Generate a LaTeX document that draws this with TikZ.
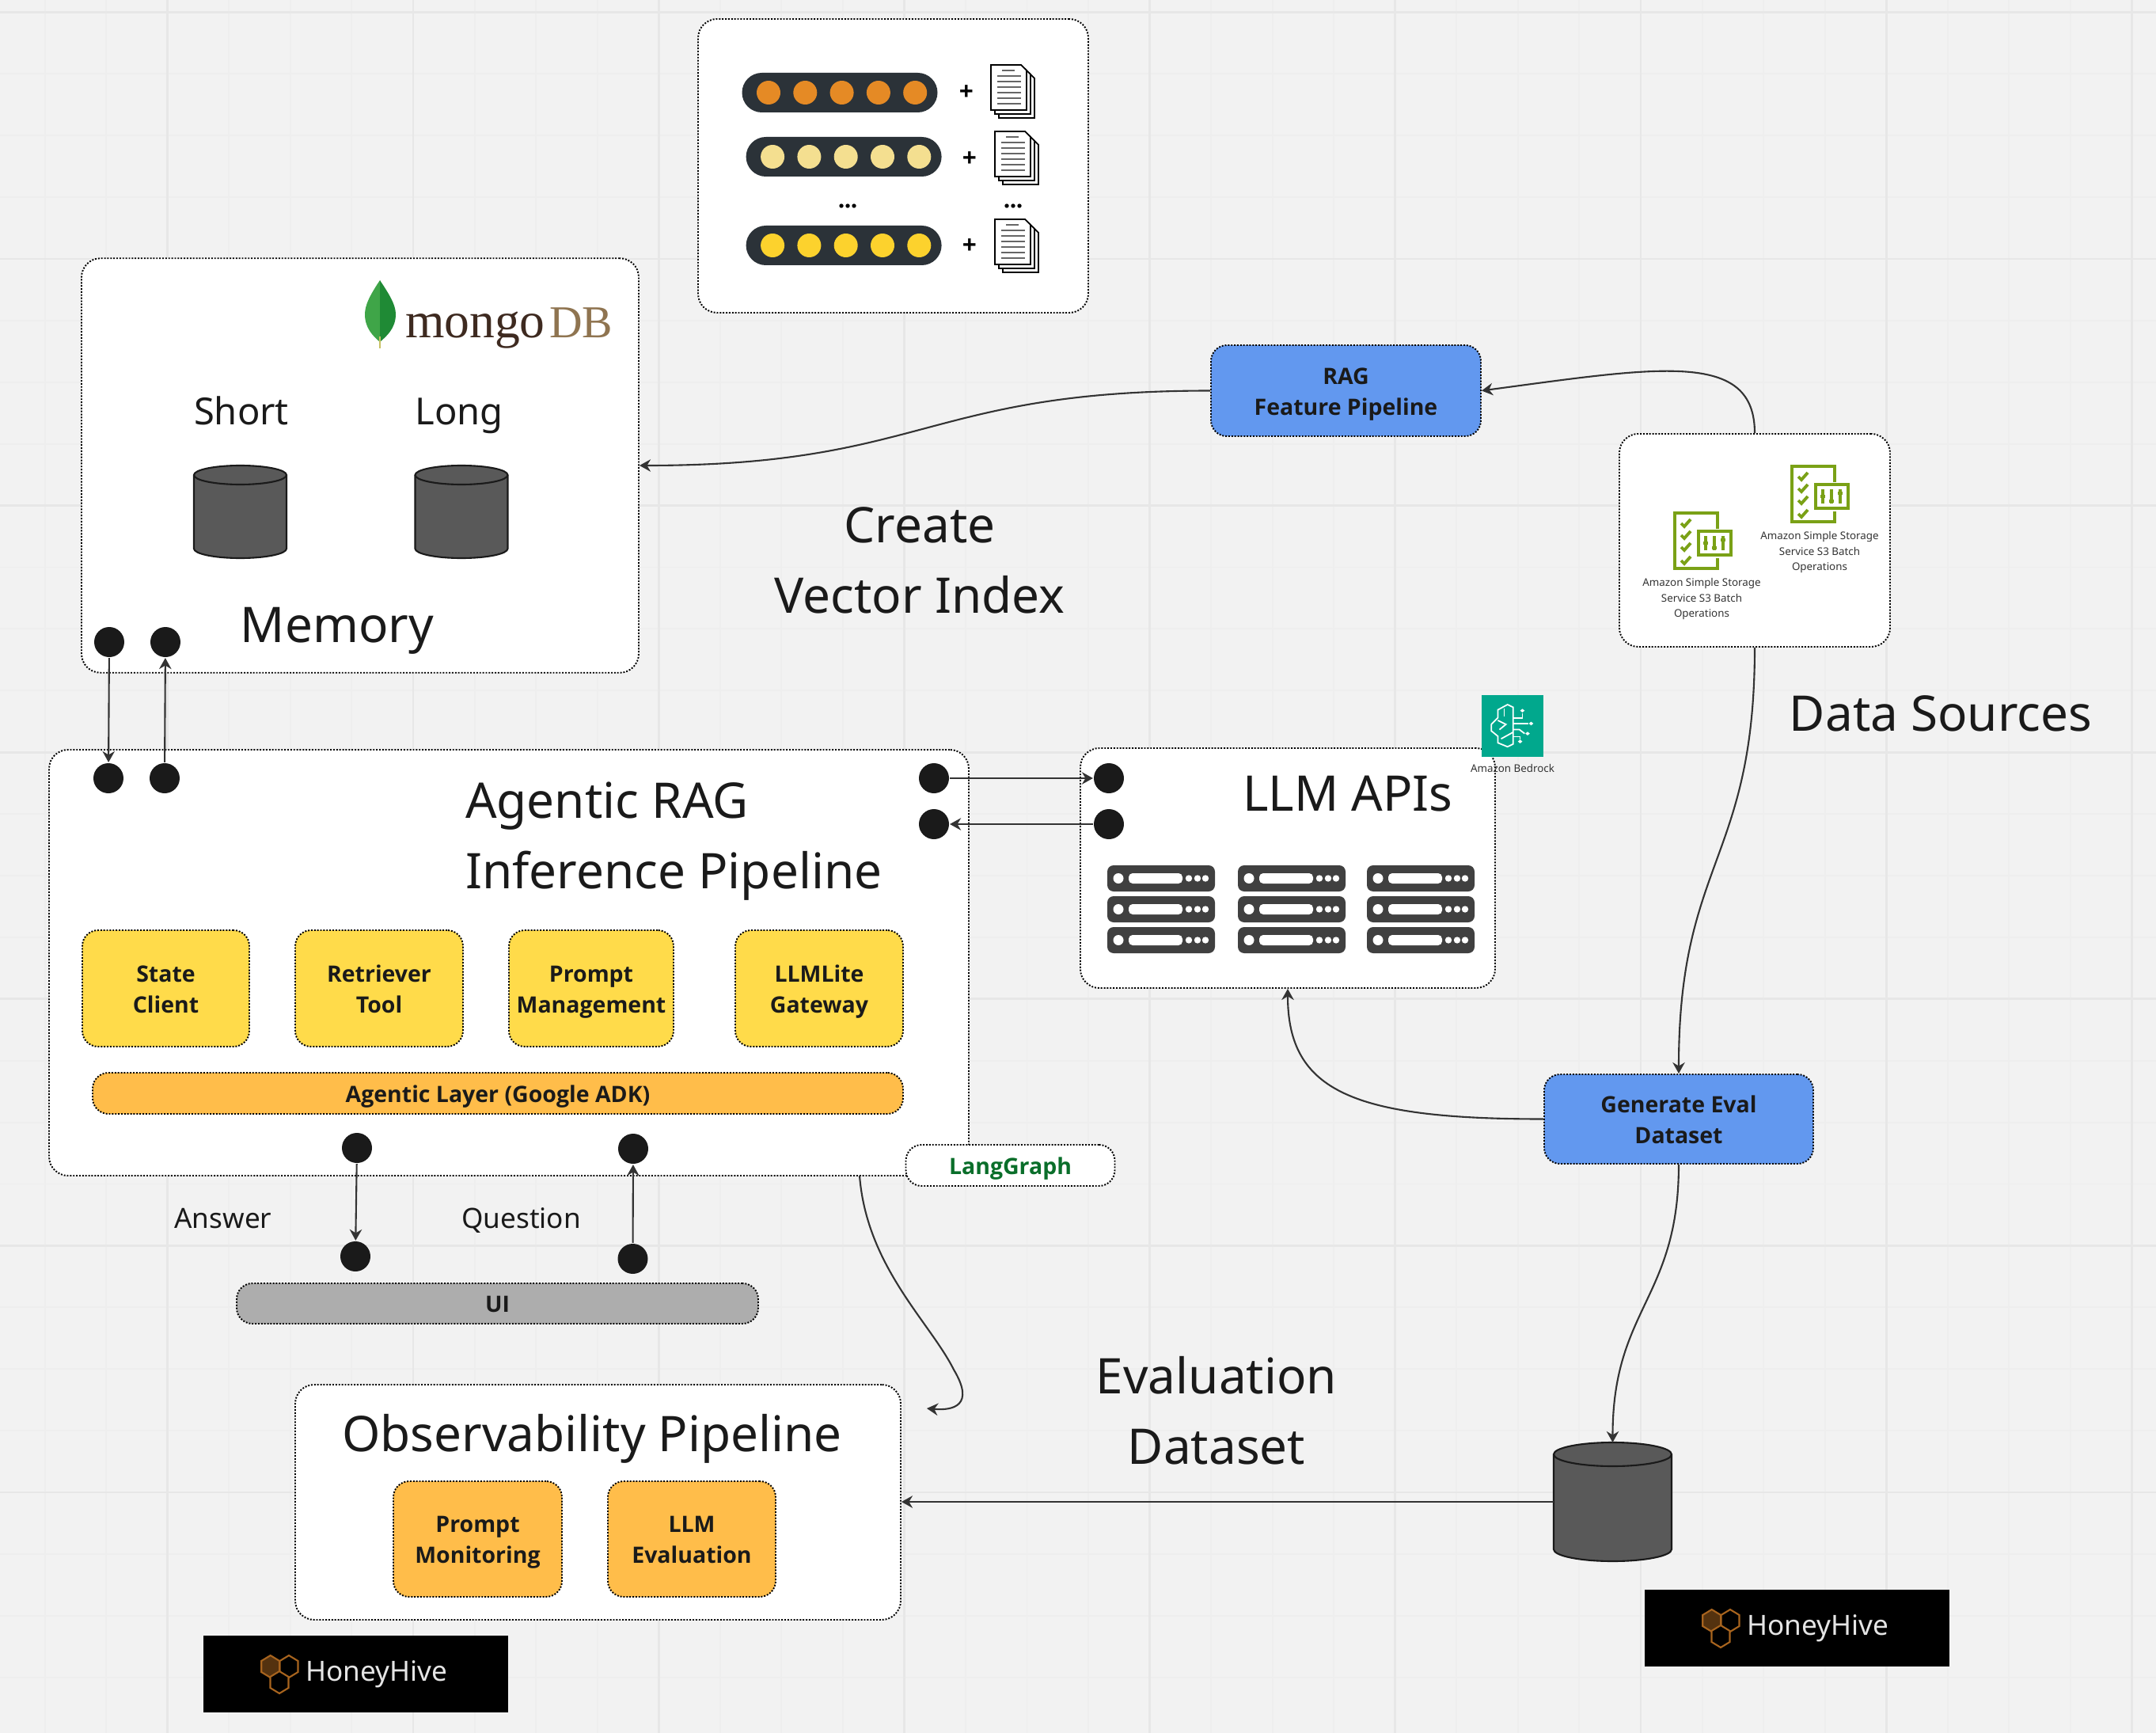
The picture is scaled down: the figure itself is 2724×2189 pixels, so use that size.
\documentclass[tikz,border=0pt]{standalone}
\usepackage{fontspec}
\setmainfont{Noto Sans}
\newfontfamily\mongofont{Liberation Serif}
\newfontfamily\chipfont{Open Sans}
\usetikzlibrary{arrows.meta}

\definecolor{canvas}{HTML}{F2F2F2}
\definecolor{gridminor}{HTML}{EEEEEE}
\definecolor{gridmajor}{HTML}{E7E7E7}
\definecolor{ink}{HTML}{1A1A1A}
\definecolor{wire}{HTML}{333333}
\definecolor{sunny}{HTML}{FFDB4A}
\definecolor{amber}{HTML}{FFBD4A}
\definecolor{skyblue}{HTML}{6298EF}
\definecolor{uigrey}{HTML}{ADADAD}
\definecolor{dbgrey}{HTML}{595959}
\definecolor{rackgrey}{HTML}{404040}
\definecolor{pillgrey}{HTML}{2B3238}
\definecolor{awsgreen}{HTML}{7AA116}
\definecolor{bedrock}{HTML}{01A88D}
\definecolor{langgreen}{HTML}{0A6E2A}
\definecolor{hivebrown}{HTML}{A8641E}
\definecolor{beadorange}{HTML}{E58A25}
\definecolor{beadpale}{HTML}{F4DF90}
\definecolor{beadyellow}{HTML}{FCD22D}
\definecolor{mongodark}{HTML}{3E2A20}
\definecolor{mongotan}{HTML}{8F7450}
\definecolor{leaflight}{HTML}{3FA548}
\definecolor{leafdark}{HTML}{1F8A35}

\newcommand{\chipstrut}{\vrule width 0pt height 8.77pt depth 2.33pt\relax}
\newcommand{\beadrow}[3]{%
  \fill [pillgrey, rounded corners=2.5mm] (#1,#2-25) rectangle (#1+247,#2+25);
  \foreach \k in {0,...,4} \fill [#3] (#1+33.5+46.3*\k,#2) circle [radius=1.5mm];
}
\newcommand{\docstack}[2]{%
  \begin{scope}[shift={(#1,#2)}, line width=.5pt]
    \foreach \d in {10,5,0}
      \draw [fill=white] (\d,\d) -- +(38,0) -- +(45,7) -- +(45,57) -- +(0,57) -- cycle;
    \foreach \r in {14,21,28,35,42,49} \draw [line width=.8pt, black!60] (8,\r) -- (38,\r);
    \draw [line width=.8pt, black!60] (14,7) -- (30,7);
  \end{scope}
}
\newcommand{\sthreeicon}[2]{%
  \begin{scope}[shift={(#1,#2)}, color=awsgreen, line width=.9pt]
    \draw (54,20) -- (54,0) -- (0,0) -- (0,70) -- (54,70) -- (54,57);
    \draw (30,23) rectangle (71,53);
    \foreach \s/\t in {39/38, 50/44, 61/34} {
      \draw (\s,29) -- (\s,47);
      \fill (\s-3,\t-2) rectangle (\s+3,\t+2);
    }
    \foreach \c in {13,28,43,60} \draw [line width=1.1pt] (8,\c) -- (12,\c+4) -- (20,\c-5);
  \end{scope}
}
\newcommand{\barrelat}[6]{%
  \node [minimum width=#4mm, minimum height=#5mm, inner sep=0, outer sep=0] (#1) at (#2,#3) {};
  \draw [draw=ink, fill=dbgrey, line width=.6pt] (#1.north west) ++(0,#6) arc [start angle=180, end angle=0, x radius=.5*#4mm, y radius=#6*.1mm]
    -- ([yshift=#6*.1mm]#1.south east) arc [start angle=0, end angle=-180, x radius=.5*#4mm, y radius=#6*.1mm] -- cycle;
  \draw [draw=ink, line width=.6pt] (#1.north west) ++(0,#6) arc [start angle=180, end angle=360, x radius=.5*#4mm, y radius=#6*.1mm];
}
\newcommand{\honeyhive}[3]{%
  \node [fill=black, minimum width=38.5mm, minimum height=9.7mm, inner sep=0] (#3) at (#1+192.5,#2+48.5) {};
  \begin{scope}[shift={(#1,#2)}, hivebrown, line width=.6pt]
    \foreach \h/\v/\f in {84.7/39/hivebrown!50!black, 108/39/black, 96/59/black}
      \draw [fill=\f] (\h,\v-14) -- (\h+11.5,\v-7) -- (\h+11.5,\v+7) -- (\h,\v+14) -- (\h-11.5,\v+7) -- (\h-11.5,\v-7) -- cycle;
  \end{scope}
  \node [anchor=base west, inner sep=0, text=white!90!black, font=\fontsize{10pt}{12pt}\selectfont] (#3txt) at (#1+128,#2+57) {HoneyHive};
}

\begin{document}
\begin{tikzpicture}[x=0.1mm, y=-0.1mm, semithick, >={Stealth[length=4pt,width=4.4pt]},
    flow/.style={->, draw=wire},
    dotline/.style={draw=black, line width=.55pt, dash pattern=on .55pt off .55pt},
    panel/.style={dotline, fill=white, rounded corners=2.4mm, inner sep=0},
    chip/.style={dotline, rounded corners=2mm, inner sep=0, align=center, text=ink,
      font=\chipfont\bfseries\fontsize{8.1pt}{11.1pt}\selectfont},
    headline/.style={inner sep=0, align=center, text=ink, font=\fontsize{17.65pt}{25.3pt}\selectfont},
    midtext/.style={inner sep=0, text=ink, anchor=base},
    blackdot/.style={circle, fill=ink, inner sep=0, minimum size=3.8mm},
    awstext/.style={inner sep=0, align=center, text=wire, font=\fontsize{3.8pt}{5.55pt}\selectfont}]

  \useasboundingbox (0,0) rectangle (2724,2189);
  \fill [canvas] (0,0) rectangle (2724,2189);
  \foreach \i in {0,...,34} \draw [gridminor, line width=.55pt] ({56.7+77.55*\i},0) -- ++(0,2189);
  \foreach \i in {0,...,27} \draw [gridminor, line width=.55pt] (0,{15.4+77.9*\i}) -- ++(2724,0);
  \foreach \i in {2,6,...,34} \draw [gridmajor, line width=.8pt] ({56.7+77.55*\i},0) -- ++(0,2189);
  \foreach \i in {0,4,...,24} \draw [gridmajor, line width=.8pt] (0,{15.4+77.9*\i}) -- ++(2724,0);

  \node [panel, minimum width=49.3mm, minimum height=37.1mm] (vectors) at (1128.5,209.5) {};
  \beadrow{937.5}{117}{beadorange}
  \beadrow{942.6}{198}{beadpale}
  \beadrow{942.6}{310}{beadyellow}
  \docstack{1252}{82}
  \docstack{1257}{166}
  \docstack{1257}{277}
  \foreach \px/\py in {1221/117, 1225/201, 1225/311} \node [inner sep=0, font=\chipfont\bfseries\fontsize{9pt}{9pt}\selectfont] (plus\py) at (\px,\py) {+};
  \foreach \px in {1071,1280} \foreach \k in {-8,0,8} \fill (\px+\k,260) circle [radius=.27mm];

  \node [panel, minimum width=70.4mm, minimum height=52.35mm] (memory) at (455,588) {};
  \fill [leaflight] (480,354) .. controls (468,372) and (461,385) .. (461,397) .. controls (461,415) and (472,425) .. (480,432) -- cycle;
  \fill [leafdark] (480,354) .. controls (492,372) and (500,385) .. (500,397) .. controls (500,415) and (488,425) .. (480,432) -- cycle;
  \draw [line width=.6pt, olive!50!white] (480,425) -- (480,440);
  \node [anchor=base west, inner sep=0, text=mongodark, font=\mongofont\fontsize{18.1pt}{20pt}\selectfont] (mongo) at (511,426) {mongo};
  \node [anchor=base west, inner sep=0, text=mongotan, font=\mongofont\fontsize{16.4pt}{20pt}\selectfont] (mongodb) at (693,426) {DB};
  \node [midtext, font=\fontsize{13.4pt}{16pt}\selectfont] (short) at (305,536) {Short};
  \node [midtext, font=\fontsize{13.4pt}{16pt}\selectfont] (long) at (580,536) {Long};
  \barrelat{shortdb}{303.5}{646.5}{11.7}{11.7}{12}
  \barrelat{longdb}{583}{646.5}{11.7}{11.7}{12}
  \node [headline, anchor=base] (memlabel) at (426,811) {Memory};

  \node [panel, minimum width=116.2mm, minimum height=53.8mm] (agentic) at (643,1216) {};
  \node [headline, anchor=west, align=left] (agenttitle) at (587,1063) {Agentic RAG\\Inference Pipeline};
  \node [chip, fill=sunny, minimum width=21.1mm, minimum height=14.7mm] (state) at (209.5,1248.5) {State\chipstrut\\Client\chipstrut};
  \node [chip, fill=sunny, minimum width=21.2mm, minimum height=14.7mm] (retriever) at (479,1248.5) {Retriever\chipstrut\\Tool\chipstrut};
  \node [chip, fill=sunny, minimum width=20.8mm, minimum height=14.7mm] (promptmgmt) at (747,1248.5) {Prompt\chipstrut\\Management\chipstrut};
  \node [chip, fill=sunny, minimum width=21.2mm, minimum height=14.7mm] (litellm) at (1035,1248.5) {LLMLite\chipstrut\\Gateway\chipstrut};
  \node [chip, fill=amber, minimum width=102.4mm, minimum height=5.2mm] (adk) at (629,1381) {Agentic Layer (Google ADK)\chipstrut};
  \node [chip, fill=white, text=langgreen, minimum width=26.4mm, minimum height=5.2mm] (langgraph) at (1276.5,1472) {LangGraph\chipstrut};

  \node [panel, minimum width=52.4mm, minimum height=30.3mm] (llm) at (1627,1096.5) {};
  \node [headline, anchor=base] (llmtitle) at (1703,1024) {LLM APIs};
  \foreach \sx in {1399,1564,1727} \foreach \sy in {1093,1132,1171} {
    \fill [rackgrey, rounded corners=.8mm] (\sx,\sy) rectangle (\sx+136,\sy+33);
    \fill [white] (\sx+14,\sy+16.5) circle [radius=.65mm];
    \fill [white, rounded corners=.5mm] (\sx+27,\sy+10) rectangle (\sx+95,\sy+23);
    \foreach \k in {103,114,124} \fill [white] (\sx+\k,\sy+16.5) circle [radius=.42mm];
  }
  \node [fill=bedrock, minimum width=7.8mm, minimum height=7.8mm, inner sep=0] (bedrockicon) at (1911,917) {};
  \begin{scope}[shift={(1360,860)}, xscale=.408, yscale=.333, white, line width=.5pt]
    \draw (1335,90) -- (1305,110) -- (1305,140) -- (1285,165) -- (1285,190) -- (1305,210) -- (1305,235) -- (1335,250) -- (1352,240) -- (1352,100) -- cycle;
    \draw (1305,150) -- (1330,165) -- (1310,185);
    \draw (1325,105) -- (1325,135);
    \draw (1352,195) -- (1315,220);
    \draw (1352,140) -- (1381,140) -- (1381,122);
    \draw (1352,162) -- (1400,162);
    \draw (1352,185) -- (1372,185) -- (1388,200);
    \draw (1352,212) -- (1374,212) -- (1374,222);
    \foreach \ox/\oy in {1381/113, 1408/162, 1397/200, 1374/230} \draw (\ox,\oy) circle [radius=.35mm];
  \end{scope}
  \node [awstext] (bedrocktext) at (1911,970) {Amazon Bedrock};

  \node [panel, minimum width=34.2mm, minimum height=26.9mm] (sources) at (2217,682.5) {};
  \sthreeicon{2116}{648}
  \sthreeicon{2264}{589}
  \node [awstext] (sthreea) at (2150,757) {Amazon Simple Storage\\Service S3 Batch\\Operations};
  \node [awstext] (sthreeb) at (2299,698) {Amazon Simple Storage\\Service S3 Batch\\Operations};

  \node [chip, fill=skyblue, minimum width=34.1mm, minimum height=11.5mm] (ragfeat) at (1700.5,493.5) {RAG\chipstrut\\Feature Pipeline\chipstrut};
  \node [chip, fill=skyblue, minimum width=34mm, minimum height=11.3mm] (genval) at (2121,1413.5) {Generate Eval\chipstrut\\Dataset\chipstrut};
  \node [chip, fill=uigrey, minimum width=65.9mm, minimum height=5.1mm] (ui) at (628.5,1646.5) {UI\chipstrut};

  \node [panel, minimum width=76.5mm, minimum height=29.7mm] (observe) at (755.5,1897.5) {};
  \node [headline, anchor=base] (obstitle) at (748,1833) {Observability Pipeline};
  \node [chip, fill=amber, minimum width=21.3mm, minimum height=14.6mm] (promptmon) at (603.5,1944) {Prompt\chipstrut\\Monitoring\chipstrut};
  \node [chip, fill=amber, minimum width=21.2mm, minimum height=14.6mm] (llmeval) at (874,1944) {LLM\chipstrut\\Evaluation\chipstrut};
  \barrelat{evaldb}{2037.5}{1897}{14.9}{15}{15}

  \honeyhive{257}{2066}{hiveleft}
  \honeyhive{2078}{2008}{hiveright}

  \node [headline] (createtext) at (1162,708) {Create\\Vector Index};
  \node [headline, anchor=base] (datatext) at (2452,923) {Data Sources};
  \node [headline] (evaltext) at (1537,1782) {Evaluation\\Dataset};
  \node [midtext, font=\fontsize{10pt}{12pt}\selectfont] (answer) at (282,1551) {Answer};
  \node [midtext, font=\fontsize{10pt}{12pt}\selectfont] (question) at (658.6,1551) {Question};

  \node [blackdot] (memout) at (138,811) {};
  \node [blackdot] (memin) at (209,811) {};
  \node [blackdot] (agin) at (137,983) {};
  \node [blackdot] (agout) at (208,983) {};
  \node [blackdot] (apiout) at (1180,983) {};
  \node [blackdot] (apiin) at (1180,1041) {};
  \node [blackdot] (llmin) at (1401,983) {};
  \node [blackdot] (llmout) at (1401,1041) {};
  \node [blackdot] (ansout) at (451,1450) {};
  \node [blackdot] (ansin) at (449,1587) {};
  \node [blackdot] (qin) at (800,1451) {};
  \node [blackdot] (qout) at (799.5,1590) {};
  \coordinate (agexit) at (1086,1485);
  \coordinate (obsentry) at (1171,1779);

  \path (memout) edge [flow] (agin);
  \path (agout) edge [flow] (memin);
  \path (apiout) edge [flow] (llmin);
  \path (llmout) edge [flow] (apiin);
  \path (ansout) edge [flow] (ansin);
  \path (qout) edge [flow] (qin);
  \path (evaldb.west) edge [flow] (observe.east |- evaldb.west);
  \draw [flow] (sources.north) .. controls +(0,-105) and +(225,-30) .. (ragfeat.east);
  \draw [flow] (ragfeat.west) .. controls +(-361,0) and +(362,0) .. (memory.east);
  \draw [flow] (sources.south) .. controls +(0,270) and +(0,-270) .. (genval.north);
  \draw [flow] (genval.west) .. controls +(-240,0) and +(0,130) .. (llm.south);
  \draw [flow] (genval.south) .. controls +(0,170) and +(0,-170) .. (evaldb.north);
  \draw [flow] (agexit) .. controls (1095,1600) and (1175,1670) .. (1205,1730) .. controls (1232,1775) and (1205,1782) .. (obsentry);
\end{tikzpicture}
\end{document}
